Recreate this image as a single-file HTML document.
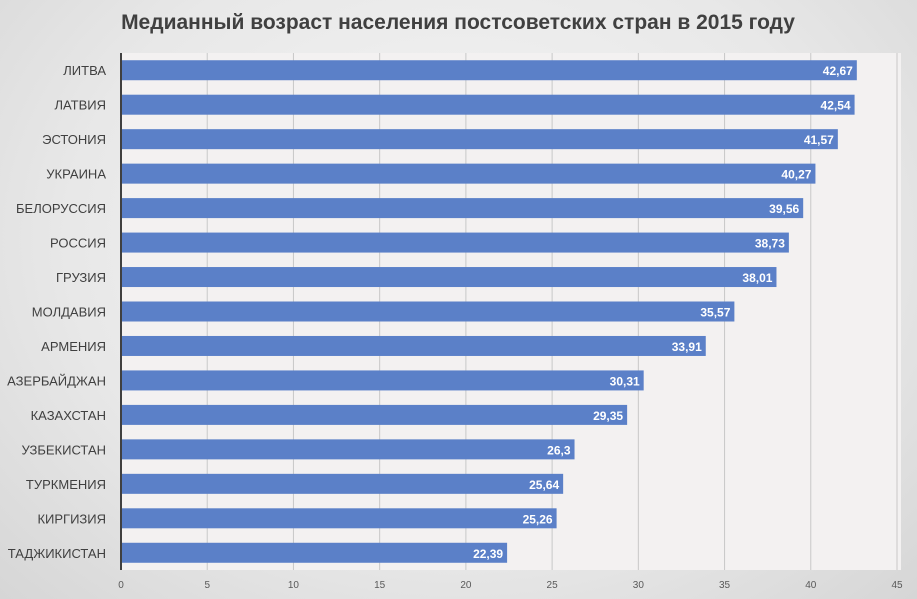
<!DOCTYPE html>
<html><head><meta charset="utf-8"><style>
html,body{margin:0;width:917px;height:599px;overflow:hidden;}
body{background:radial-gradient(ellipse at 50% 40%,#f6f6f6 0%,#e8e8e8 60%,#d6d6d6 100%);font-family:"Liberation Sans","DejaVu Sans",sans-serif;}
svg{display:block;}
</style></head><body>
<svg id="chart" width="917" height="599" xmlns="http://www.w3.org/2000/svg">
<text x="458" y="29" text-anchor="middle" font-size="21" font-weight="bold" fill="#404040">Медианный возраст населения постсоветских стран в 2015 году</text>
<g id="grid"></g><g id="bars"></g><g id="labels"></g>
</svg>
<script>
const categories=["ЛИТВА","ЛАТВИЯ","ЭСТОНИЯ","УКРАИНА","БЕЛОРУССИЯ","РОССИЯ","ГРУЗИЯ","МОЛДАВИЯ","АРМЕНИЯ","АЗЕРБАЙДЖАН","КАЗАХСТАН","УЗБЕКИСТАН","ТУРКМЕНИЯ","КИРГИЗИЯ","ТАДЖИКИСТАН"];
const values=[42.67,42.54,41.57,40.27,39.56,38.73,38.01,35.57,33.91,30.31,29.35,26.3,25.64,25.26,22.39];
const valueLabels=["42,67","42,54","41,57","40,27","39,56","38,73","38,01","35,57","33,91","30,31","29,35","26,3","25,64","25,26","22,39"];
const ticks=[0,5,10,15,20,25,30,35,40,45];
const NS="http://www.w3.org/2000/svg";
const x0=121,x1=897,xMax=45,plotTop=53,plotBottom=570;
const xs=v=>x0+(x1-x0)*v/xMax;
const band=(plotBottom-plotTop)/categories.length;
const yc=i=>plotTop+band*(i+0.5);
function mk(t,a,p){const e=document.createElementNS(NS,t);for(const k in a)e.setAttribute(k,a[k]);p.appendChild(e);return e;}
const g=document.getElementById('grid'),b=document.getElementById('bars'),l=document.getElementById('labels');
const bg=mk('rect',{x:x0,y:plotTop,width:x1-x0+4,height:plotBottom-plotTop,fill:'#f3f1f1'},g);


ticks.forEach(t=>{
 const ln=mk('line',{x1:xs(t),x2:xs(t),y1:plotTop,y2:plotBottom,stroke:'#c8c8c8','stroke-width':1},g);
 
 
 const tx=mk('text',{x:xs(t),y:588,'text-anchor':'middle','font-size':10,fill:'#595959'},g);
 tx.textContent=t;
 
 
});
categories.forEach((c,i)=>{
 const r=mk('rect',{x:x0,y:yc(i)-10,width:xs(values[i])-x0,height:20,fill:'#5b80c8'},b);
 
 
 const v=mk('text',{x:xs(values[i])-4,y:yc(i)+5,'text-anchor':'end','font-size':12,'font-weight':'bold',fill:'#fff'},l);
 v.textContent=valueLabels[i];
 
 
 const t=mk('text',{x:106,y:yc(i)+5,'text-anchor':'end','font-size':13,fill:'#404040'},l);
 t.textContent=c;
 
 
});
const ax=mk('line',{x1:x0,x2:x0,y1:plotTop,y2:plotBottom,stroke:'#404040','stroke-width':2},l);


</script>
</body></html>
